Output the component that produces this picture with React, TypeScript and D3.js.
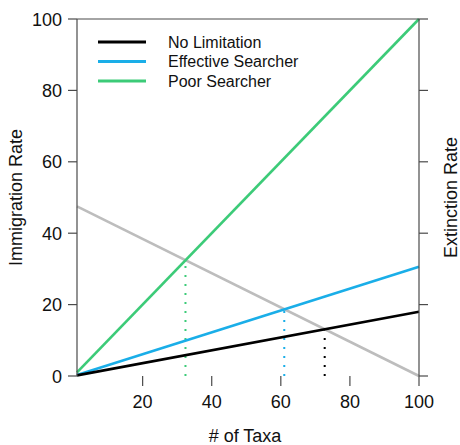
import React from "react";
import * as d3 from "d3";

const taxa = [1, 100];
const noLimitation = [0.18, 18];
const effectiveSearcher = [0.31, 30.6];
const poorSearcher = [1, 100];
const extinction = [47.5, 0];
const equilibriumTaxa = [72.7, 61.0, 32.4];
const equilibriumRate = [13.1, 18.7, 32.4];
const equilibriumColors = ["#000000", "#1aaee8", "#3ccb78"];
const xTicks = [20, 40, 60, 80, 100];
const yTicks = [0, 20, 40, 60, 80, 100];
const legendLabels = ["No Limitation", "Effective Searcher", "Poor Searcher"];
const legendColors = ["#000000", "#1aaee8", "#3ccb78"];

const W = 460, H = 445;
const L = 77, R = 419, T = 19, B = 376;
const FONT = "'Liberation Sans', Arial, sans-serif";

export default function App() {
  const x = d3.scaleLinear().domain([1, 100]).range([L, R]);
  const y = d3.scaleLinear().domain([0, 100]).range([B, T]);
  const line = d3.line<[number, number]>().x(d => x(d[0])).y(d => y(d[1]));
  const mk = (vals: number[]) => taxa.map((t, i) => [t, vals[i]] as [number, number]);
  const axisColor = "#4a4a4a";
  const series = [
    { vals: extinction, color: "#bdbdbd" },
    { vals: poorSearcher, color: legendColors[2] },
    { vals: effectiveSearcher, color: legendColors[1] },
    { vals: noLimitation, color: legendColors[0] },
  ];
  return (
    <svg width={W} height={H} style={{ position: "absolute", left: 0, top: 0, background: "#fff" }} fontFamily={FONT}>
      {/* dotted equilibrium lines */}
      {equilibriumTaxa.map((t, i) => (
        <line key={"eq" + i} x1={x(t)} x2={x(t)} y1={y(0)} y2={y(equilibriumRate[i])}
          stroke={equilibriumColors[i]} strokeWidth={2} strokeDasharray="2,7" />
      ))}
      {series.map((s, i) => (
        <path key={"s" + i} d={line(mk(s.vals)) || ""} fill="none" stroke={s.color} strokeWidth={2.6} />
      ))}
      {/* axes */}
      <line x1={L} x2={L} y1={T} y2={B} stroke={axisColor} strokeWidth={1.2} />
      <line x1={R} x2={R} y1={T} y2={B} stroke={axisColor} strokeWidth={1.2} />
      <line x1={L} x2={R} y1={T} y2={T} stroke={axisColor} strokeWidth={1.2} />
      {yTicks.map(v => (
        <g key={"y" + v}>
          <line x1={L - 9} x2={L} y1={y(v)} y2={y(v)} stroke={axisColor} strokeWidth={1.2} />
          <line x1={R} x2={R + 9} y1={y(v)} y2={y(v)} stroke={axisColor} strokeWidth={1.2} />
          <text x={L - 15} y={y(v) + 6.5} textAnchor="end" fontSize={18} fill="#111">{v}</text>
        </g>
      ))}
      {xTicks.map(v => (
        <g key={"x" + v}>
          <line x1={x(v)} x2={x(v)} y1={B} y2={B + 10} stroke={axisColor} strokeWidth={1.2} />
          <text x={x(v)} y={408} textAnchor="middle" fontSize={18} fill="#111">{v}</text>
        </g>
      ))}
      <text x={245} y={442} textAnchor="middle" fontSize={18} fill="#111"># of Taxa</text>
      <text transform={`translate(22,${(T + B) / 2}) rotate(-90)`} textAnchor="middle" fontSize={18} fill="#111">Immigration Rate</text>
      <text transform={`translate(457,${(T + B) / 2}) rotate(-90)`} textAnchor="middle" fontSize={18} fill="#111">Extinction Rate</text>
      {/* legend */}
      {legendLabels.map((lab, i) => (
        <g key={"l" + i}>
          <line x1={98} x2={146} y1={42 + i * 19.5} y2={42 + i * 19.5} stroke={legendColors[i]} strokeWidth={3} />
          <text x={168} y={42 + i * 19.5 + 5.5} fontSize={16} fill="#111">{lab}</text>
        </g>
      ))}
    </svg>
  );
}
